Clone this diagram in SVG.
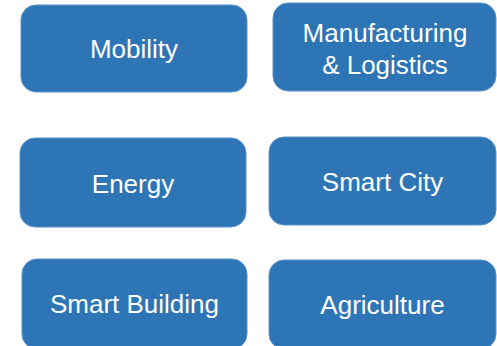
<svg xmlns="http://www.w3.org/2000/svg" width="497" height="346" viewBox="0 0 497 346">
<style>
.box{fill:#2E75B6;stroke:#5B93C9;stroke-width:1}
.lbl{fill:#FFFFFF;font-family:"Liberation Sans",Arial,sans-serif;font-size:26px;text-anchor:middle}
</style>
<rect width="497" height="346" fill="#FFFFFF"/>
<g id="mobility"><rect class="box" x="21" y="5" width="226" height="87" rx="15"/><text class="lbl" x="134" y="58">Mobility</text></g>
<g id="manufacturing"><rect class="box" x="273" y="3" width="223" height="88" rx="15"/><text class="lbl" x="385" y="42">Manufacturing</text><text class="lbl" x="385" y="74">&amp; Logistics</text></g>
<g id="energy"><rect class="box" x="20" y="138" width="226" height="89" rx="15"/><text class="lbl" x="133" y="193">Energy</text></g>
<g id="smartcity"><rect class="box" x="269" y="137" width="227" height="88" rx="15"/><text class="lbl" x="382.5" y="191">Smart City</text></g>
<g id="smartbuilding"><rect class="box" x="22" y="259" width="225" height="90" rx="15"/><text class="lbl" x="134.5" y="313">Smart Building</text></g>
<g id="agriculture"><rect class="box" x="269" y="260" width="227" height="89" rx="15"/><text class="lbl" x="382.5" y="314">Agriculture</text></g>
<g id="connectors"></g>
</svg>
